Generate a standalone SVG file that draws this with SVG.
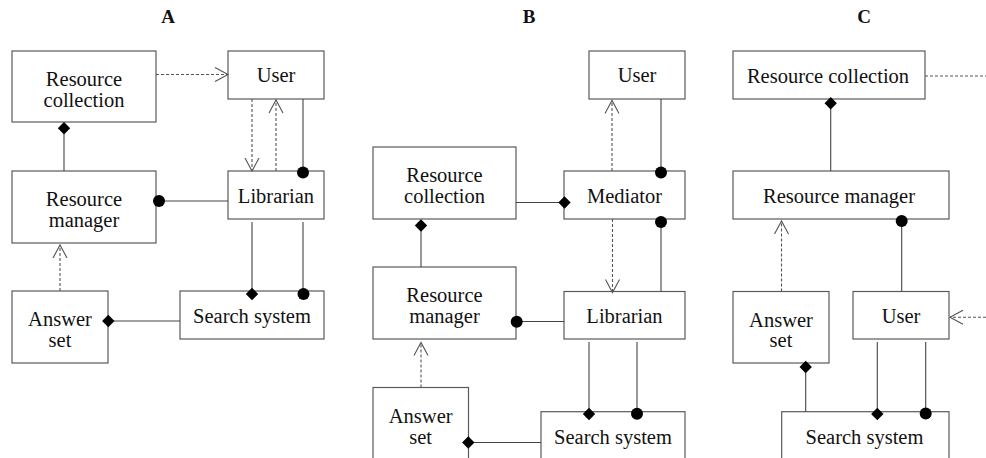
<svg xmlns="http://www.w3.org/2000/svg" width="986" height="458" viewBox="0 0 986 458">
<style>
.box{fill:#fff;stroke:#5a5a5a;stroke-width:1.2}
.t{font-family:"Liberation Serif","Times New Roman",serif;font-size:20.5px;fill:#111;text-anchor:middle}
.ttl{font-family:"Liberation Serif","Times New Roman",serif;font-size:19px;font-weight:bold;fill:#111;text-anchor:middle}
.ln{fill:none;stroke:#444;stroke-width:1.1}
.dash{fill:none;stroke:#555;stroke-width:1.1;stroke-dasharray:3,2}
.arr{marker-end:url(#open)}
.dot{fill:#000}
</style>
<defs>
<marker id="open" viewBox="-15 -9 17 18" refX="0" refY="0" markerWidth="17" markerHeight="18" markerUnits="userSpaceOnUse" orient="auto">
<path d="M-13,-7 L0,0 L-13,7" fill="none" stroke="#555" stroke-width="1.1" stroke-dasharray="none"/>
</marker>
<path id="dia" d="M0,-6.2 L6.2,0 L0,6.2 L-6.2,0 Z" fill="#000"/>
</defs>
<rect width="986" height="458" fill="#fff"/>
<text class="ttl" x="168" y="22.5">A</text>
<text class="ttl" x="529" y="22.5">B</text>
<text class="ttl" x="864" y="22.5">C</text>

<g id="A_resource_collection"><rect class="box" x="12" y="51" width="144" height="71"/><text class="t" x="84" y="86">Resource</text><text class="t" x="84" y="107">collection</text></g>
<g id="A_user"><rect class="box" x="228" y="51" width="96" height="48"/><text class="t" x="276" y="82">User</text></g>
<g id="A_resource_manager"><rect class="box" x="12" y="171" width="144" height="72"/><text class="t" x="84" y="206">Resource</text><text class="t" x="84" y="227">manager</text></g>
<g id="A_librarian"><rect class="box" x="228" y="171" width="96" height="48"/><text class="t" x="276" y="202.5">Librarian</text></g>
<g id="A_answer_set"><rect class="box" x="12" y="291" width="96" height="72"/><text class="t" x="60" y="326">Answer</text><text class="t" x="60" y="347">set</text></g>
<g id="A_search_system"><rect class="box" x="180" y="291" width="144" height="48"/><text class="t" x="252" y="322.5">Search system</text></g>

<g id="B_user"><rect class="box" x="589" y="51" width="96" height="48"/><text class="t" x="637" y="82">User</text></g>
<g id="B_resource_collection"><rect class="box" x="373" y="147" width="143" height="72"/><text class="t" x="444.5" y="182">Resource</text><text class="t" x="444.5" y="203">collection</text></g>
<g id="B_mediator"><rect class="box" x="564" y="171" width="121" height="48"/><text class="t" x="624.5" y="202.5">Mediator</text></g>
<g id="B_resource_manager"><rect class="box" x="373" y="267" width="143" height="72"/><text class="t" x="444.5" y="302">Resource</text><text class="t" x="444.5" y="323">manager</text></g>
<g id="B_librarian"><rect class="box" x="564" y="291.5" width="121" height="47.5"/><text class="t" x="624.5" y="322.5">Librarian</text></g>
<g id="B_answer_set"><rect class="box" x="373" y="387.5" width="95.5" height="90"/><text class="t" x="420.7" y="422.5">Answer</text><text class="t" x="420.7" y="443.5">set</text></g>
<g id="B_search_system"><rect class="box" x="541" y="411.7" width="144" height="70"/><text class="t" x="613" y="444">Search system</text></g>

<g id="C_resource_collection"><rect class="box" x="733" y="51" width="192" height="48"/><text class="t" x="828" y="82.5">Resource collection</text></g>
<g id="C_resource_manager"><rect class="box" x="733" y="171" width="216" height="48"/><text class="t" x="839" y="202.5">Resource manager</text></g>
<g id="C_answer_set"><rect class="box" x="733" y="291.5" width="96" height="71.5"/><text class="t" x="781" y="326.5">Answer</text><text class="t" x="781" y="347">set</text></g>
<g id="C_user"><rect class="box" x="853" y="291.5" width="96" height="47.5"/><text class="t" x="901" y="322.5">User</text></g>
<g id="C_search_system"><rect class="box" x="781.7" y="411.7" width="167.3" height="70"/><text class="t" x="864.5" y="444">Search system</text></g>

<g id="connectors">
<!-- Panel A -->
<line class="dash arr" x1="156" y1="74.5" x2="228" y2="74.5"/>
<line class="ln" x1="64" y1="134" x2="64" y2="171"/>
<use href="#dia" x="64" y="128.2"/>
<line class="ln" x1="165" y1="201" x2="228" y2="201"/>
<circle class="dot" cx="159" cy="201" r="6"/>
<line class="dash arr" x1="252" y1="99" x2="252" y2="171"/>
<line class="dash arr" x1="276" y1="171" x2="276" y2="100"/>
<line class="ln" x1="303" y1="99" x2="303" y2="172"/>
<circle class="dot" cx="303" cy="172.5" r="6"/>
<line class="ln" x1="252" y1="222" x2="252" y2="294"/>
<use href="#dia" x="252" y="294"/>
<line class="ln" x1="303" y1="222" x2="303" y2="294"/>
<circle class="dot" cx="303.5" cy="294" r="6"/>
<line class="ln" x1="114" y1="321" x2="180" y2="321"/>
<use href="#dia" x="108.3" y="321"/>
<line class="dash arr" x1="60" y1="291" x2="60" y2="245"/>

<!-- Panel B -->
<line class="ln" x1="661" y1="99" x2="661" y2="172"/>
<circle class="dot" cx="661" cy="172.5" r="6"/>
<line class="dash arr" x1="612" y1="171" x2="612" y2="100.5"/>
<line class="ln" x1="516" y1="202.5" x2="564" y2="202.5"/>
<use href="#dia" x="564.5" y="202.5"/>
<line class="ln" x1="421" y1="231" x2="421" y2="267"/>
<use href="#dia" x="421" y="225.5"/>
<line class="ln" x1="661" y1="222" x2="661" y2="291"/>
<circle class="dot" cx="661" cy="222" r="6"/>
<line class="dash arr" x1="612.5" y1="219" x2="612.5" y2="292.5"/>
<line class="ln" x1="522" y1="321.5" x2="564" y2="321.5"/>
<circle class="dot" cx="516.7" cy="321.7" r="6"/>
<line class="ln" x1="589" y1="342" x2="589" y2="414"/>
<use href="#dia" x="589" y="414"/>
<line class="ln" x1="637" y1="342" x2="637" y2="414"/>
<circle class="dot" cx="637" cy="413.8" r="6"/>
<line class="ln" x1="474" y1="442.5" x2="541" y2="442.5"/>
<use href="#dia" x="468.3" y="442.5"/>
<line class="dash arr" x1="421" y1="387.5" x2="421" y2="342.5"/>

<!-- Panel C -->
<line class="ln" x1="830.7" y1="108" x2="830.7" y2="171"/>
<use href="#dia" x="830.7" y="103.2"/>
<line class="dash" x1="925" y1="76" x2="986" y2="76"/>
<line class="ln" x1="901.7" y1="226" x2="901.7" y2="291.5"/>
<circle class="dot" cx="901.7" cy="221" r="6"/>
<line class="dash arr" x1="781.5" y1="291.5" x2="781.5" y2="221"/>
<line class="dash arr" x1="986" y1="317.3" x2="950" y2="317.3"/>
<line class="ln" x1="805.7" y1="372" x2="805.7" y2="411.7"/>
<use href="#dia" x="805.7" y="367"/>
<line class="ln" x1="877.3" y1="342" x2="877.3" y2="414"/>
<use href="#dia" x="877.3" y="414"/>
<line class="ln" x1="925.7" y1="342" x2="925.7" y2="414"/>
<circle class="dot" cx="925.7" cy="413.5" r="6"/>
</g>
</svg>
